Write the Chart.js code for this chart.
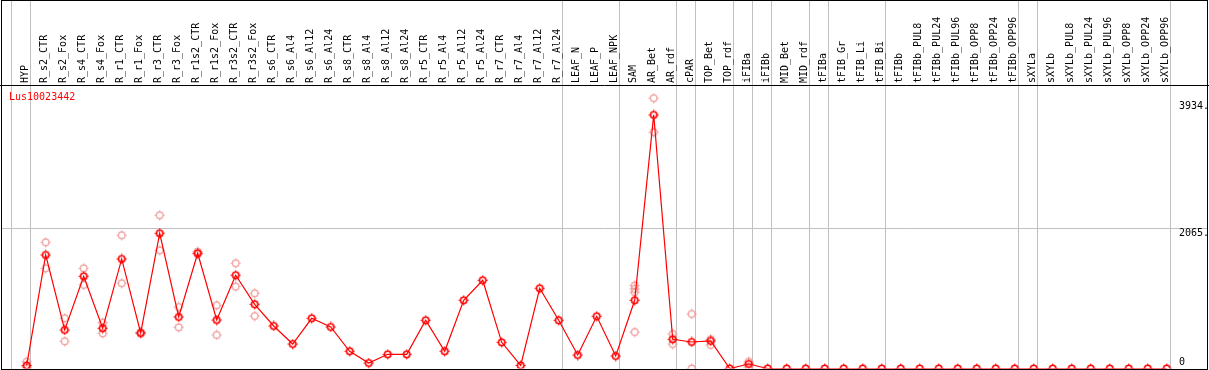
<!DOCTYPE html>
<html><head><meta charset="utf-8">
<script src="https://cdn.jsdelivr.net/npm/chart.js@4/dist/chart.umd.min.js"></script>
<style>html,body{margin:0;padding:0;background:#fff;overflow:hidden}#wrap{width:1209px;height:370px}</style>
</head><body><div id="wrap"><canvas id="c" width="1209" height="370"></canvas></div>
<script>
const categories = ['HYP','R_s2_CTR','R_s2_Fox','R_s4_CTR','R_s4_Fox','R_r1_CTR','R_r1_Fox','R_r3_CTR','R_r3_Fox','R_r1s2_CTR','R_r1s2_Fox','R_r3s2_CTR','R_r3s2_Fox','R_s6_CTR','R_s6_Al4','R_s6_Al12','R_s6_Al24','R_s8_CTR','R_s8_Al4','R_s8_Al12','R_s8_Al24','R_r5_CTR','R_r5_Al4','R_r5_Al12','R_r5_Al24','R_r7_CTR','R_r7_Al4','R_r7_Al12','R_r7_Al24','LEAF_N','LEAF_P','LEAF_NPK','SAM','AR_Bet','AR_rdf','cPAR','TOP_Bet','TOP_rdf','iFIBa','iFIBb','MID_Bet','MID_rdf','tFIBa','tFIB_Gr','tFIB_Li','tFIB_Bi','tFIBb','tFIBb_PUL8','tFIBb_PUL24','tFIBb_PUL96','tFIBb_OPP8','tFIBb_OPP24','tFIBb_OPP96','sXYLa','sXYLb','sXYLb_PUL8','sXYLb_PUL24','sXYLb_PUL96','sXYLb_OPP8','sXYLb_OPP24','sXYLb_OPP96'];
const meanValues = [45,1674,568,1360,593,1615,524,1994,760,1699,715,1375,947,627,361,740,612,254,81,209,209,711,254,1006,1301,386,45,1183,711,199,770,184,1006,3739,431,391,406,0,66,0,0,0,0,0,0,0,0,0,0,0,0,0,0,0,0,0,0,0,0,0,0];
const repA = [100,1861,740,1478,676,1965,534,2260,907,1723,932,1552,1109,null,null,null,null,null,null,null,null,null,null,null,null,null,null,null,null,null,null,null,1223,3986,509,804,431,null,100,null,null,null,null,null,null,null,null,null,null,null,null,null,null,null,null,null,null,null,null,null,null];
const repB = [22,1478,401,1232,519,1257,513,1743,608,1689,494,1207,774,null,null,null,null,null,null,null,null,null,null,null,null,null,null,null,null,null,null,null,1174,3484,361,0,347,null,22,null,null,null,null,null,null,null,null,null,null,null,null,null,null,null,null,null,null,null,null,null,null];
const repC = categories.map((c) => c === 'SAM' ? 1124 : null);
const repD = categories.map((c) => c === 'SAM' ? 538 : null);
const yTickValues = [0, 2065, 3934];
const yTickLabels = ['0', '2065.', '3934.'];
const groupEnds = [-1, 0, 28, 31, 34, 35, 37, 38, 39, 41, 42, 45, 52, 53, 60];
const seriesName = 'Lus10023442';

function makeMarker(color, lw, r) {
  const c = document.createElement('canvas'); c.width = 11; c.height = 11;
  const g = c.getContext('2d');
  g.strokeStyle = color; g.lineWidth = lw;
  g.beginPath(); g.arc(5.5, 5.5, r, 0, Math.PI * 2); g.stroke();
  g.lineWidth = 1;
  g.beginPath();
  g.moveTo(5.5, 0.5); g.lineTo(5.5, 2.5); g.moveTo(5.5, 8.5); g.lineTo(5.5, 10.5);
  g.moveTo(0.5, 5.5); g.lineTo(2.5, 5.5); g.moveTo(8.5, 5.5); g.lineTo(10.5, 5.5);
  g.stroke();
  return c;
}
const mainMarker = makeMarker('#ff0000', 1.6, 3.2);
const repMarker = makeMarker('#f09a9a', 1.2, 3.3);

const toPts = (arr) => arr.map((v, i) => ({ x: i, y: v })).filter(p => p.y !== null);
const FONT = 'DejaVu Sans Mono';
const zeroPad = (s) => { s.paddingLeft = 0; s.paddingRight = 0; s.paddingTop = 0; s.paddingBottom = 0; };

const framePlugin = {
  id: 'frame',
  beforeDraw(chart) {
    const ctx = chart.ctx, xs = chart.scales.x;
    ctx.save();
    ctx.fillStyle = '#fff'; ctx.fillRect(0, 0, chart.width, chart.height);
    ctx.strokeStyle = '#c0c0c0'; ctx.lineWidth = 1;
    groupEnds.forEach(i => {
      const px = Math.floor(xs.getPixelForValue(i + 0.2)) + 0.5;
      ctx.beginPath(); ctx.moveTo(px, 0); ctx.lineTo(px, chart.height); ctx.stroke();
    });
    ctx.restore();
  },
  afterDraw(chart) {
    const ctx = chart.ctx;
    ctx.save();
    ctx.strokeStyle = '#000'; ctx.lineWidth = 1;
    ctx.strokeRect(1.5, 0.5, chart.width - 3, chart.height - 1);
    ctx.beginPath(); ctx.moveTo(0, 85.5); ctx.lineTo(chart.width, 85.5); ctx.stroke();
    ctx.fillStyle = '#ff0000'; ctx.font = '10px "' + FONT + '"';
    ctx.textBaseline = 'middle'; ctx.textAlign = 'left';
    ctx.fillText(seriesName, 9, 97.5);
    ctx.restore();
  }
};

new Chart(document.getElementById('c'), {
  type: 'line',
  data: {
    datasets: [
      { label: seriesName, data: toPts(meanValues), borderColor: '#ff0000', borderWidth: 1.2,
        pointStyle: mainMarker, pointRadius: 4, showLine: true, order: 0 },
      { label: 'rep1', data: toPts(repA), showLine: false, pointStyle: repMarker, pointRadius: 4, order: 1 },
      { label: 'rep2', data: toPts(repB), showLine: false, pointStyle: repMarker, pointRadius: 4, order: 2 },
      { label: 'rep3', data: toPts(repC), showLine: false, pointStyle: repMarker, pointRadius: 4, order: 3 },
      { label: 'rep4', data: toPts(repD), showLine: false, pointStyle: repMarker, pointRadius: 4, order: 4 }
    ]
  },
  options: {
    responsive: false, animation: false, devicePixelRatio: 1, events: [],
    layout: { autoPadding: false, padding: { left: 2, right: 2, top: 0, bottom: 1.5 } },
    plugins: { legend: { display: false }, tooltip: { enabled: false } },
    scales: {
      x: {
        type: 'linear', position: 'top', min: -1.3, max: 62.12,
        afterBuildTicks: (s) => { s.ticks = categories.map((_, i) => ({ value: i })); },
        afterFit: (s) => { s.height = 85; zeroPad(s); },
        grid: { display: false, drawTicks: false }, border: { display: false },
        ticks: { autoSkip: false, minRotation: 90, maxRotation: 90, padding: 2, labelOffset: 11, color: '#000',
                 font: { family: FONT, size: 10 }, callback: (v) => categories[v] ?? '' }
      },
      y: {
        type: 'linear', position: 'right', min: 0, max: 4180,
        afterBuildTicks: (s) => { s.ticks = yTickValues.map(v => ({ value: v })); },
        afterFit: (s) => { s.width = 0; zeroPad(s); },
        grid: { drawTicks: false, lineWidth: 1,
                color: (c) => (c.tick && c.tick.value === 2065) ? '#c0c0c0' : 'rgba(0,0,0,0)' },
        border: { display: false },
        ticks: { mirror: true, crossAlign: 'far', padding: 2, color: '#000',
                 font: (c) => ({ family: FONT, size: 10, lineHeight: (c.tick && c.tick.value === 0) ? '13px' : '9px' }),
                 callback: (v) => { const l = yTickLabels[yTickValues.indexOf(v)]; return v === 0 ? [l, ''] : ['', l]; } }
      }
    }
  },
  plugins: [framePlugin]
});
</script>
</body></html>
